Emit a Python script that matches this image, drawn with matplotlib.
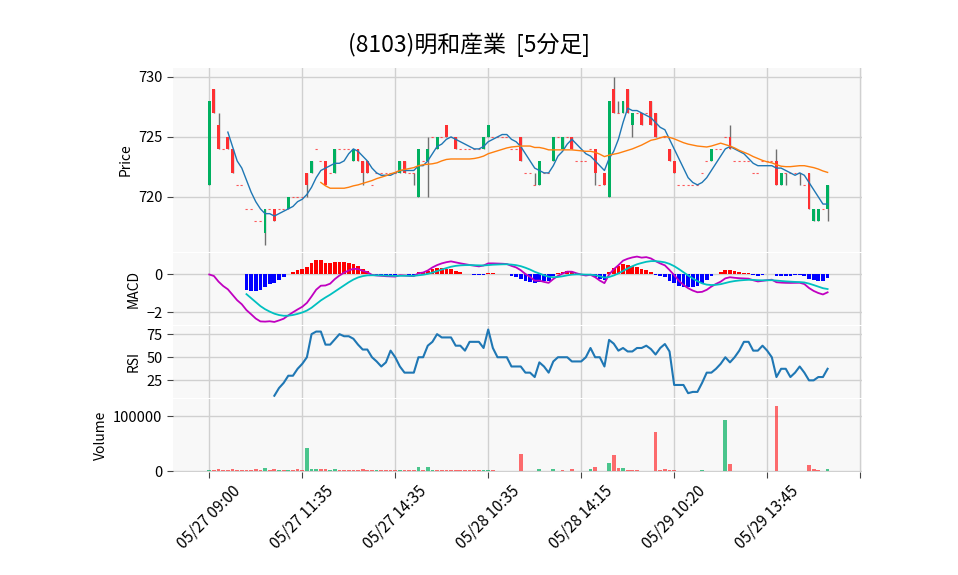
import numpy as np
import pandas as pd
import matplotlib
matplotlib.use('Agg')
import matplotlib.pyplot as plt

plt.rcParams['font.family'] = ['Noto Sans CJK JP', 'DejaVu Sans']

# 5-minute bars, 05/27 09:00 .. 05/29 afternoon
opens = [721, 729, 726, 724, 725, 724, 721, 721, 719, 719, 718, 718, 717, 719, 719, 719, 719, 719, 720, 720,
         720, 722, 722, 724, 723, 723, 722, 722, 724, 724, 724, 723, 724, 723, 723, 721, 722, 722, 722, 722,
         722, 722, 723, 722, 722, 720, 723, 723, 725, 724, 725, 726, 725, 725, 724, 724, 724, 724, 724, 724,
         725, 725, 725, 725, 725, 724, 724, 725, 722, 722, 721, 721, 722, 722, 723, 725, 724, 725, 725, 723,
         723, 723, 724, 724, 721, 722, 720, 729, 727, 727, 729, 726, 727, 727, 727, 728, 727, 725, 725, 724,
         723, 721, 721, 721, 721, 721, 722, 723, 723, 724, 724, 725, 725, 723, 723, 723, 723, 722, 722, 723,
         723, 723, 723, 721, 722, 722, 722, 722, 721, 722, 718, 718, 719, 719]
highs = [728, 729, 727, 724, 725, 724, 721, 721, 719, 719, 718, 718, 719, 719, 719, 719, 719, 720, 720, 720,
         720, 722, 723, 724, 723, 723, 722, 724, 724, 724, 724, 724, 724, 723, 723, 721, 722, 722, 722, 722,
         722, 723, 723, 722, 722, 724, 723, 725, 725, 725, 725, 726, 725, 725, 724, 724, 724, 724, 724, 725,
         726, 725, 725, 725, 725, 724, 724, 725, 722, 722, 722, 723, 722, 722, 725, 725, 725, 725, 725, 723,
         723, 723, 724, 724, 721, 722, 728, 730, 728, 728, 729, 727, 727, 727, 727, 728, 727, 725, 725, 724,
         723, 721, 721, 721, 721, 721, 722, 723, 724, 724, 724, 725, 726, 723, 723, 723, 723, 722, 722, 723,
         723, 723, 724, 722, 722, 722, 722, 722, 721, 722, 719, 719, 719, 721]
lows = [721, 727, 724, 724, 724, 722, 721, 721, 719, 719, 718, 718, 716, 719, 718, 719, 719, 719, 720, 720,
        720, 720, 722, 724, 723, 721, 722, 722, 724, 724, 724, 723, 723, 721, 722, 721, 722, 722, 722, 722,
        722, 722, 722, 722, 721, 720, 723, 720, 725, 724, 725, 725, 725, 724, 724, 724, 724, 724, 724, 724,
        725, 725, 725, 725, 725, 724, 724, 723, 722, 722, 721, 721, 722, 722, 723, 725, 724, 725, 724, 723,
        723, 723, 724, 721, 721, 721, 720, 727, 727, 727, 727, 725, 727, 726, 727, 726, 725, 725, 725, 723,
        722, 721, 721, 721, 721, 721, 722, 723, 723, 724, 724, 725, 724, 723, 723, 723, 723, 722, 722, 723,
        723, 723, 721, 721, 721, 722, 722, 721, 721, 719, 718, 718, 719, 718]
closes = [728, 727, 724, 724, 724, 722, 721, 721, 719, 719, 718, 718, 719, 719, 718, 719, 719, 720, 720, 720,
          720, 721, 723, 724, 723, 721, 722, 724, 724, 724, 724, 724, 723, 722, 722, 721, 722, 722, 722, 722,
          722, 723, 722, 722, 722, 724, 723, 724, 725, 725, 725, 725, 725, 724, 724, 724, 724, 724, 724, 725,
          726, 725, 725, 725, 725, 724, 724, 723, 722, 722, 721, 723, 722, 722, 725, 725, 725, 725, 724, 723,
          723, 723, 724, 722, 721, 721, 728, 727, 727, 728, 727, 727, 727, 726, 727, 726, 725, 725, 725, 723,
          722, 721, 721, 721, 721, 721, 722, 723, 724, 724, 724, 725, 724, 723, 723, 723, 723, 722, 722, 723,
          723, 723, 721, 722, 722, 722, 722, 722, 721, 719, 719, 719, 719, 721]
volumes = [1000, 1800, 3000, 1200, 1200, 3000, 1200, 1200, 1200, 1200, 3000, 1200, 6000, 1200, 3000, 1200, 1200, 1200, 1200, 3000,
           1200, 42000, 3000, 3000, 4300, 4300, 1800, 4300, 1200, 1200, 1200, 1200, 1200, 3600, 1000, 1000, 1000, 1000, 1000, 1000,
           1000, 1000, 1000, 1000, 1000, 7500, 1200, 7500, 1000, 2500, 2500, 1000, 1000, 1000, 1000, 1000, 1000, 1000, 1000, 1000,
           1000, 2500, 800, 800, 800, 800, 800, 31000, 800, 800, 800, 3000, 800, 800, 3600, 800, 1000, 800, 3000, 800,
           800, 800, 3000, 8000, 800, 800, 15000, 29000, 5000, 5000, 2500, 2500, 2500, 800, 800, 800, 71000, 2000, 3600, 1200,
           2500, 800, 800, 800, 800, 800, 2500, 800, 800, 800, 800, 93000, 13000, 800, 800, 800, 800, 800, 800, 800,
           800, 800, 119000, 800, 800, 800, 800, 800, 800, 11000, 3000, 1800, 800, 4300]

tick_pos = [0, 20, 40, 60, 80, 100, 120, 140]
tick_labels = ['05/27 09:00', '05/27 11:35', '05/27 14:35', '05/28 10:35',
               '05/28 14:15', '05/29 10:20', '05/29 13:45', '']

title = '(8103)明和産業  [5分足]'

df = pd.DataFrame({'open': opens, 'high': highs, 'low': lows, 'close': closes, 'volume': volumes})
x = np.arange(len(df))

# indicators
df['ma5'] = df['close'].rolling(5).mean()
df['ma25'] = df['close'].rolling(25).mean()
ema12 = df['close'].ewm(span=12, adjust=False).mean()
ema26 = df['close'].ewm(span=26, adjust=False).mean()
df['macd'] = ema12 - ema26
df['signal'] = df['macd'].ewm(span=9, adjust=False).mean()
df.loc[:7, 'signal'] = np.nan
df['histo'] = df['macd'] - df['signal']
diff = df['close'].diff()
gain = diff.clip(lower=0).rolling(14).mean()
loss = (-diff.clip(upper=0)).rolling(14).mean()
df['rsi'] = 100 * gain / (gain + loss)

UP = '#00b060'
DOWN = '#fe3032'
WICK = '#707070'
GRID = '#d0d0d0'
FACE = '#f8f8f8'

fig = plt.figure(figsize=(9.58, 5.75), dpi=100)
W, H = 958, 575


def box(top, bottom):
    return [173 / W, 1 - bottom / H, 689 / W, (bottom - top) / H]


ax1 = fig.add_axes(box(68, 252))
ax2 = fig.add_axes(box(253, 325), sharex=ax1)
ax3 = fig.add_axes(box(326, 398), sharex=ax1)
ax4 = fig.add_axes(box(399, 472), sharex=ax1)

for ax in (ax1, ax2, ax3, ax4):
    ax.set_facecolor(FACE)
    ax.grid(True, color=GRID, linewidth=1.0)
    ax.set_axisbelow(True)
    for s in ax.spines.values():
        s.set_visible(False)
    ax.tick_params(axis='both', labelsize=10.5, color='#444444', length=4)

# candles
o = df['open'].values
c = df['close'].values
up = c > o
flat = c == o
ax1.vlines(x, df['low'], df['high'], color=WICK, linewidth=1.0, zorder=2)
body_col = np.where(up, UP, DOWN)
ax1.bar(x[~flat], np.abs(c - o)[~flat], bottom=np.minimum(o, c)[~flat],
        width=0.62, color=body_col[~flat], zorder=3)
ax1.hlines(c[flat], x[flat] - 0.3, x[flat] + 0.3, color=DOWN, linewidth=0.8,
           linestyles=(0, (2, 1.5)), alpha=0.8, zorder=3)
ax1.plot(x, df['ma5'], color='#1f77b4', linewidth=1.0, zorder=4)
ax1.plot(x, df['ma25'], color='#ff7f0e', linewidth=1.0, zorder=4)
ax1.set_ylim(715.4, 730.75)
ax1.set_yticks([720, 725, 730])
ax1.set_ylabel('Price', fontsize=10)

# MACD
hist_col = np.where(df['histo'] >= 0, '#ff0000', '#0000ff')
ax2.bar(x, df['histo'].fillna(0), width=0.8, color=hist_col, zorder=2)
ax2.plot(x, df['macd'], color='#c000c0', linewidth=1.3, zorder=3)
ax2.plot(x, df['signal'], color='#00c0c0', linewidth=1.3, zorder=3)
ax2.set_ylim(-2.68, 1.14)
ax2.set_yticks([-2, 0])
ax2.set_ylabel('MACD', fontsize=10)

# RSI
ax3.plot(x, df['rsi'], color='#1f77b4', linewidth=1.5)
ax3.set_ylim(5.9, 83.8)
ax3.set_yticks([25, 50, 75])
ax3.set_ylabel('RSI', fontsize=10)

# volume, coloured by close vs previous close
prev = df['close'].shift(1).fillna(df['open']).values
vcol = np.where(c > prev, UP, DOWN)
ax4.bar(x, df['volume'], width=0.8, color=vcol, alpha=0.7, zorder=2)
ax4.set_ylim(-1800, 132000)
ax4.set_yticks([0, 100000])
ax4.set_ylabel('Volume', fontsize=10)

ax4.set_xlim(-7.8, 140.4)
ax4.set_xticks(tick_pos)
ax4.set_xticklabels(tick_labels, rotation=45, fontsize=11)
for ax in (ax1, ax2, ax3):
    ax.tick_params(axis='x', labelbottom=False, length=0)

fig.text(0.49, 0.922, title, ha='center', va='center', fontsize=16.5)

fig.savefig('out.png', dpi=100)
